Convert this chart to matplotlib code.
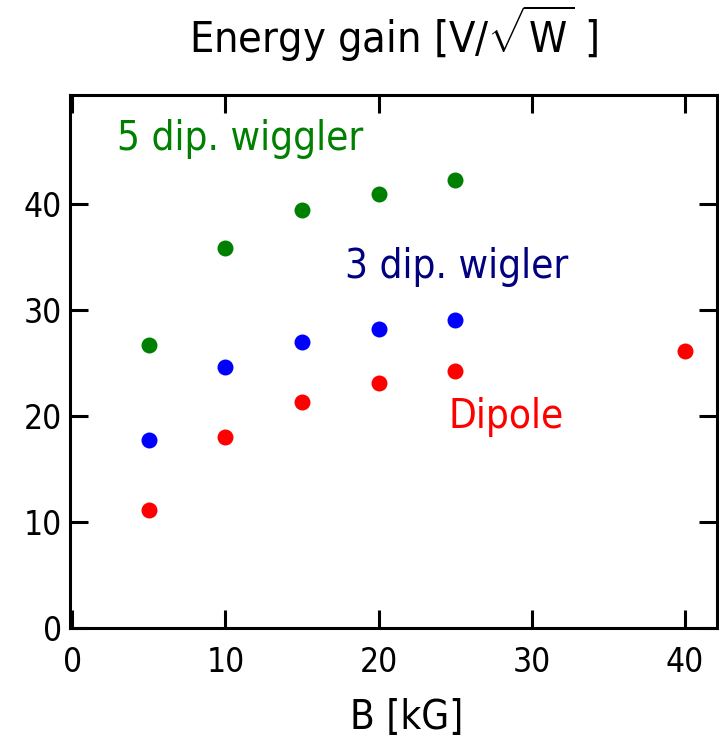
import matplotlib
matplotlib.use("Agg")
import matplotlib.pyplot as plt

plt.rcParams['font.family'] = ['DejaVu Sans']
plt.rcParams['font.stretch'] = 'condensed'
plt.rcParams['mathtext.fontset'] = 'custom'
plt.rcParams['mathtext.rm'] = 'DejaVu Sans:stretch=condensed'
plt.rcParams['mathtext.it'] = 'DejaVu Sans:stretch=condensed'

# magnetic field values [kG]
b_field = [5, 10, 15, 20, 25]
b_dipole = [5, 10, 15, 20, 25, 40]

# energy gain per sqrt(W)
gain_5dip = [26.7, 35.9, 39.5, 41.0, 42.3]
gain_3dip = [17.7, 24.6, 27.0, 28.2, 29.1]
gain_dipole = [11.1, 18.0, 21.3, 23.1, 24.3, 26.1]

fig = plt.figure(figsize=(7.19, 7.43), dpi=100)
ax = fig.add_axes([0.0974, 0.1548, 0.8996, 0.7172])

ax.plot(b_field, gain_5dip, 'o', color='#008000', markersize=11.5, markeredgewidth=0)
ax.plot(b_field, gain_3dip, 'o', color='#0000ff', markersize=11.5, markeredgewidth=0)
ax.plot(b_dipole, gain_dipole, 'o', color='#ff0000', markersize=11.5, markeredgewidth=0)

ax.text(2.9, 45.1, '5 dip. wiggler', color='#008000', fontsize=29)
ax.text(17.8, 33.0, '3 dip. wigler', color='#000080', fontsize=29)
ax.text(24.6, 18.9, 'Dipole', color='#ff0000', fontsize=29)

ax.set_xlim(-0.15, 42.1)
ax.set_ylim(0, 50.3)
ax.set_xticks([0, 10, 20, 30, 40])
ax.set_yticks([0, 10, 20, 30, 40])
ax.tick_params(direction='in', length=13, width=2.2, labelsize=24,
               top=True, right=True, pad=6)
ax.tick_params(axis='x', pad=13)
for s in ax.spines.values():
    s.set_linewidth(2.2)

ax.set_xlabel('B [kG]', fontsize=29, labelpad=14)
ax.xaxis.label.set_x(0.52)
ax.set_title(r'Energy gain [V/$\sqrt{\mathrm{W}}$ ]', fontsize=31, pad=30)

fig.savefig('out.png', dpi=100)
